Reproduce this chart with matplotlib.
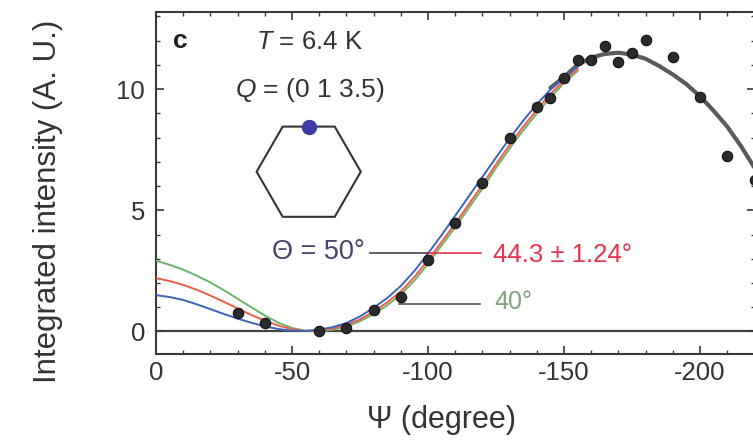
import matplotlib
matplotlib.use("Agg")
import matplotlib.pyplot as plt
from matplotlib.patches import RegularPolygon
import numpy as np

plt.rcParams['font.family'] = ['Liberation Sans', 'DejaVu Sans']
plt.rcParams['axes.unicode_minus'] = False
plt.rcParams['mathtext.fontset'] = 'custom'
plt.rcParams['mathtext.it'] = 'Liberation Sans:italic'
plt.rcParams['mathtext.rm'] = 'Liberation Sans'

# measured data (Psi in degrees, integrated intensity)
psi_data = [-30, -40, -60, -70, -80, -90, -100, -110, -120, -130, -140, -145,
            -150, -155, -160, -165, -170, -175, -180, -190, -200, -210, -220]
int_data = [0.76, 0.35, 0.0, 0.14, 0.89, 1.42, 2.95, 4.47, 6.12, 7.98, 9.26, 9.63,
            10.45, 11.2, 11.2, 11.77, 11.11, 11.48, 12.02, 11.32, 9.68, 7.24, 6.25]

# model curves
psi_fit = [0, -5, -10, -15, -20, -25, -30, -35, -40, -45, -50, -55, -60, -65, -70,
           -75, -80, -85, -90, -95, -100, -105, -110, -115, -120, -125, -130,
           -135, -140, -145, -150, -155]
fit_50 = [1.50, 1.42, 1.30, 1.12, 0.92, 0.72, 0.53, 0.36, 0.21, 0.10, 0.03, 0.02,
          0.08, 0.18, 0.35, 0.62, 0.98, 1.38, 1.88, 2.50, 3.22, 3.98, 4.78, 5.58,
          6.38, 7.18, 7.97, 8.70, 9.38, 9.98, 10.50, 10.95]
fit_443 = [2.20, 2.08, 1.92, 1.72, 1.48, 1.22, 0.95, 0.68, 0.45, 0.24, 0.09, 0.02,
           0.04, 0.12, 0.27, 0.50, 0.82, 1.20, 1.65, 2.25, 2.95, 3.70, 4.45, 5.25,
           6.05, 6.90, 7.70, 8.45, 9.15, 9.80, 10.35, 10.85]
fit_40 = [2.92, 2.75, 2.55, 2.30, 2.02, 1.70, 1.35, 1.00, 0.66, 0.36, 0.14, 0.03,
          0.01, 0.07, 0.20, 0.42, 0.72, 1.08, 1.52, 2.10, 2.80, 3.55, 4.30, 5.10,
          5.90, 6.75, 7.55, 8.30, 9.00, 9.65, 10.25, 10.75]
psi_gray = [-145, -150, -155, -160, -165, -170, -175, -180, -185, -190, -195,
            -200, -205, -210, -215, -220]
fit_gray = [10.05, 10.50, 11.00, 11.30, 11.45, 11.50, 11.42, 11.25, 10.95, 10.60,
            10.20, 9.70, 9.10, 8.45, 7.65, 6.75]

x_ticks = [0, -50, -100, -150, -200]
y_ticks = [0, 5, 10]

fig = plt.figure(figsize=(7.53, 4.41), dpi=100)
ax = fig.add_axes([156/753, 1-354/441, (753-156)/753 + 0.002, (354-12)/441])
ax.set_xlim(0, -219.5)
ax.set_ylim(-0.93, 13.18)

axis_col = '#3a3a3a'
ax.axhline(0, color='#444444', lw=1.6, zorder=1)

ax.plot(psi_gray, fit_gray, color='#5a5a5a', lw=3.0, zorder=2, solid_capstyle='round')
ax.plot(psi_fit, fit_40, color='#6cb36c', lw=1.4, zorder=3)
ax.plot(psi_fit, fit_443, color='#e8604a', lw=1.4, zorder=3)
ax.plot(psi_fit, fit_50, color='#3f63b8', lw=1.4, zorder=4)

ax.plot(psi_data, int_data, 'o', ms=7.5, mfc='#2b2b2b', mec='#111111', mew=0.8,
        zorder=5, clip_on=True)

# leader lines
ax.plot([-78.5, -100.5], [3.24, 3.24], color='#444444', lw=1.2, zorder=4)
ax.plot([-100.5, -119.5], [3.24, 3.24], color='#e8344e', lw=1.2, zorder=4)
ax.plot([-89.5, -119.0], [1.15, 1.15], color='#555555', lw=1.2, zorder=4)

ax.text(0.040, 0.915, 'c', transform=ax.transAxes, fontsize=19, fontweight='bold',
        ha='center', va='center', color='#222222')
ax.text(0.257, 0.912, r'$T$ = 6.4 K', transform=ax.transAxes, fontsize=18.5,
        ha='center', va='center', color='#333333')
ax.text(0.257, 0.772, r'$Q$ = (0 1 3.5)', transform=ax.transAxes, fontsize=19,
        ha='center', va='center', color='#333333')
ax.text(0.272, 0.298, 'Θ = 50°', transform=ax.transAxes, fontsize=19.5,
        ha='center', va='center', color='#45456c')
ax.text(0.563, 0.290, '44.3 ± 1.24°', transform=ax.transAxes, fontsize=18.5,
        ha='left', va='center', color='#e8344e')
ax.text(0.565, 0.152, '40°', transform=ax.transAxes, fontsize=18,
        ha='left', va='center', color='#7fa27f')

ax.set_xticks(x_ticks)
ax.set_xticklabels([str(v) for v in x_ticks])
ax.set_yticks(y_ticks)
ax.set_xticks(np.arange(0, -221, -10), minor=True)
ax.set_yticks(np.arange(-0, 14, 1), minor=True)
ax.tick_params(which='both', direction='in', top=True, right=True, colors=axis_col,
               labelcolor='#333333', labelsize=18.5)
ax.tick_params(which='major', length=6, width=1.2)
ax.tick_params(which='minor', length=3, width=1.0)
ax.tick_params(axis='x', pad=5)
ax.tick_params(axis='y', pad=8)
for s in ax.spines.values():
    s.set_color(axis_col)
    s.set_linewidth(1.5)

ax.set_xlabel('Ψ (degree)', fontsize=22, color='#333333')
ax.set_ylabel('Integrated intensity (A. U.)', fontsize=22.5, color='#333333')
ax.xaxis.set_label_coords(0.477, -0.148)
ax.yaxis.set_label_coords(-0.155, 0.447)

# hexagon inset
iax = fig.add_axes([308.7/753 - 0.083, 1 - 171.7/441 - 0.1417, 0.166, 0.2834])
iax.set_xlim(-1.2, 1.2)
iax.set_ylim(-1.2, 1.2)
iax.set_aspect('equal')
iax.axis('off')
iax.add_patch(RegularPolygon((0, 0), numVertices=6, radius=1.0, orientation=np.pi/6,
                             fill=False, ec='#333333', lw=1.5))
iax.plot([0], [0.866], 'o', ms=10, color='#3e3aa8')

fig.savefig('out.png', dpi=100)
